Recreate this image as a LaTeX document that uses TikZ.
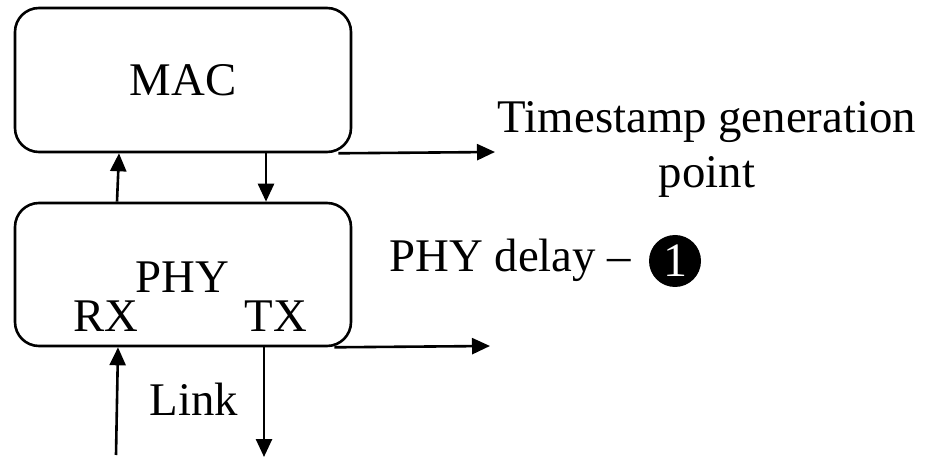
\documentclass[tikz,border=0pt]{standalone}
\usepackage{fontspec}
\setmainfont{Liberation Serif}
\usetikzlibrary{arrows.meta, positioning}

\begin{document}
\begin{tikzpicture}[x=0.5pt,y=-0.5pt,line width=1.3pt,
    >={Triangle[length=9pt,width=8pt]},
    every node/.style={font=\fontsize{23.4pt}{27.5pt}\selectfont},
    block/.style={draw,rounded corners=12pt,minimum width=168pt,minimum height=72pt,inner sep=0pt},
    lbl/.style={anchor=base,inner sep=0pt}]
  \useasboundingbox (0,0) rectangle (925,459);

  \node[block] (mac) at (183,80) {MAC};
  \node[block,minimum height=71.5pt] (phy) at (183,274.5) {};
  \node[lbl] (phyname) at (182,293) {PHY};
  \node[lbl] (rx) at (106,332) {RX};
  \node[lbl] (tx) at (276,332) {TX};
  \node[lbl] (link) at (194,415) {Link};

  \node[lbl,align=center] (ts) at (707,188) {Timestamp generation\\point};
  \node[lbl,anchor=base west] (delay) at (388,272) {PHY delay --};
  \node[circle,fill=black,inner sep=0pt,minimum size=26pt,text=white,
        font=\fontsize{24pt}{28pt}\selectfont] (one) at (675,261) {1};

  \coordinate (tsend) at (495,152);
  \coordinate (delayend) at (490,346);
  \coordinate (linkin) at (116,455);
  \coordinate (linkout) at (264,457);

  \path[->]
    ([xshift=-7pt]mac.south east) edge (tsend)
    ([xshift=-33pt]phy.north) edge ([xshift=-32pt]mac.south)
    ([xshift=41.5pt]mac.south) edge ([xshift=41.5pt]phy.north)
    ([xshift=-9pt]phy.south east) edge (delayend)
    (linkin) edge ([xshift=-32.5pt]phy.south)
    ([xshift=40.5pt]phy.south) edge (linkout);
\end{tikzpicture}
\end{document}
